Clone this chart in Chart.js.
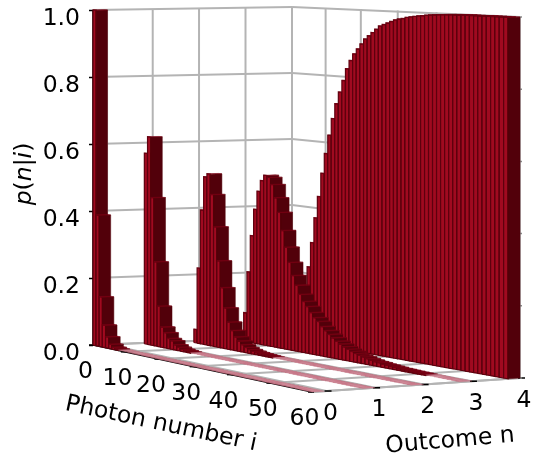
<!DOCTYPE html>
<html>
<head>
<meta charset="utf-8">
<title>p(n|i)</title>
<script src="https://cdn.jsdelivr.net/npm/chart.js@4"></script>
<style>
  html, body { margin: 0; padding: 0; background: #fff; }
  canvas { display: block; }
</style>
</head>
<body>
<canvas id="chart" width="533" height="455"></canvas>
<script>
// Axis ticks
const photonTicks = [0, 10, 20, 30, 40, 50, 60];
const outcomeTicks = [0, 1, 2, 3, 4];
const probTicks = [0, 0.2, 0.4, 0.6, 0.8, 1.0];

// p(n|i) for i = 0..59. 0 means no bar at all
const outcome0 = [
  1.0, .39, .148, .066, .033, .013, .006, .003, .0015, .0008,
  .0005, .0004, .0003, .0002, .0002, .0001, .0001, .0001, .0001, .0001,
  .0001, .0001, .0001, .0001, .0001, .0001, .0001, .0001, .0001, .0001,
  .0001, .0001, .0001, .0001, .0001, .0001, .0001, .0001, .0001, .0001,
  .0001, .0001, .0001, .0001, .0001, .0001, .0001, .0001, .0001, .0001,
  .0001, .0001, .0001, .0001, .0001, .0001, .0001, .0001, .0001, .0001
];
const outcome1 = [
  0, .57, .62, .44, .25, .12, .06, .045, .03, .025,
  .015, .01, .006, .004, .002, .001, .0008, .0006, .0004, .0003,
  .0002, .0002, .0001, .0001, .0001, .0001, .0001, .0001, .0001, .0001,
  .0001, .0001, .0001, .0001, .0001, .0001, .0001, .0001, .0001, .0001,
  .0001, .0001, .0001, .0001, .0001, .0001, .0001, .0001, .0001, .0001,
  .0001, .0001, .0001, .0001, .0001, .0001, .0001, .0001, .0001, .0001
];
const outcome2 = [
  0, 0, .04, .225, .40, .50, .51, .45, .355, .256,
  .178, .12, .08, .057, .04, .03, .021, .015, .011, .008,
  .006, .0045, .0035, .0025, .002, .0015, .0012, .001, .0008, .0006,
  .0005, .0004, .0003, .0003, .0002, .0002, .0002, .0001, .0001, .0001,
  .0001, .0001, .0001, .0001, .0001, .0001, .0001, .0001, .0001, .0001,
  .0001, .0001, .0001, .0001, .0001, .0001, .0001, .0001, .0001, .0001
];
const outcome3 = [
  0, 0, 0, .086, .21, .32, .40, .455, .488, .505,
  .50, .48, .442, .40, .348, .30, .257, .22, .193, .168,
  .149, .136, .12, .107, .098, .085, .075, .066, .058, .05,
  .044, .038, .033, .029, .025, .022, .019, .016, .014, .012,
  .011, .009, .008, .007, .006, .005, .0045, .004, .0035, .003,
  .0025, .002, .0018, .0015, .0012, .001, .0009, .0008, .0007, .0006
];
const outcome4 = [
  0, 0, 0, 0, .012, .045, .09, .155, .226, .30,
  .375, .44, .51, .57, .625, .675, .72, .755, .79, .825,
  .85, .87, .885, .90, .915, .925, .935, .945, .955, .96,
  .965, .97, .975, .978, .98, .984, .986, .988, .99, .991,
  .993, .994, .995, .996, .997, .997, .998, .998, .998, .999,
  .999, .999, .999, .999, 1, 1, 1, 1, 1, 1
];
const rows = [outcome0, outcome1, outcome2, outcome3, outcome4];

// Colours
const gridColor = '#b4b4b4';
const frontColor = '#a00a20';
const frontEdge = '#5e000e';
const sideColor = '#52000a';
const capColor = '#7a0014';
const flatCapColor = '#d4899a';
const flatCapEdge = '#b45c6c';
const flatBelow = 0.002; // bars lower than this read as a pale strip on the floor

const nMin = -0.3, nMax = 4, iMax = 60, barDepth = 0.25;
// Where each row of bars ends along the outcome axis
const rowEnds = [-0.05, 1, 2, 3, 4];

// Floor corners on the page: (i=0,n=min) (i=max,n=min) (i=max,n=max) (i=0,n=max)
const floor = [[93, 345], [312, 392], [520, 378], [292, 337]];
// Height of z=1 above each end of the floor
const heightBase = 335, heightPerI = 31, heightPerN = -5;
const outcomeWarp = 0.1; // keeps the outcome gridlines evenly spaced along the back

// Homography from the unit square to the floor quad
const sx = floor[0][0] - floor[1][0] + floor[2][0] - floor[3][0];
const sy = floor[0][1] - floor[1][1] + floor[2][1] - floor[3][1];
const dx1 = floor[1][0] - floor[2][0], dx2 = floor[3][0] - floor[2][0];
const dy1 = floor[1][1] - floor[2][1], dy2 = floor[3][1] - floor[2][1];
const den = dx1 * dy2 - dx2 * dy1;
const g = (sx * dy2 - dx2 * sy) / den;
const h = (dx1 * sy - sx * dy1) / den;
const ax = floor[1][0] - floor[0][0] + g * floor[1][0];
const bx = floor[3][0] - floor[0][0] + h * floor[3][0];
const ay = floor[1][1] - floor[0][1] + g * floor[1][1];
const by = floor[3][1] - floor[0][1] + h * floor[3][1];

// 3D (i, n, p) -> point in the chart's scales (x in px, y so that the left edge reads p)
function project(i, n, p) {
  const u = i / iMax;
  let v = (n - nMin) / (nMax - nMin);
  v -= outcomeWarp * v * (1 - v);
  const w = g * u + h * v + 1;
  const px = (ax * u + bx * v + floor[0][0]) / w;
  const py = (ay * u + by * v + floor[0][1]) / w - p * (heightBase + heightPerI * u + heightPerN * v);
  return { x: px, y: (floor[0][1] - py) / heightBase };
}

const datasets = [];

function addLine(points, color, width) {
  datasets.push({
    data: points, showLine: true, fill: false, borderColor: color,
    borderWidth: width, pointRadius: 0, clip: false, tension: 0
  });
}

function addFace(points, color, edge, width) {
  datasets.push({
    data: points.concat([points[0]]), showLine: true, fill: 'shape',
    backgroundColor: color, borderColor: edge, borderWidth: width,
    pointRadius: 0, clip: false, tension: 0
  });
}

// Short tick mark around a projected point
function addTick(pt, before, after, color) {
  addLine([{ x: pt.x - before, y: pt.y }, { x: pt.x + after, y: pt.y }], color, 1.5);
}

// Grid on the floor and the two walls
outcomeTicks.forEach(n => {
  addLine([project(0, n, 0), project(iMax, n, 0)], gridColor, 2);
  addLine([project(0, n, 0), project(0, n, 1)], gridColor, 2);
});
photonTicks.forEach(i => {
  addLine([project(i, nMin, 0), project(i, nMax, 0)], gridColor, 2);
  addLine([project(i, nMax, 0), project(i, nMax, 1)], gridColor, 2);
});
probTicks.forEach(p => {
  addLine([project(0, nMin, p), project(0, nMax, p)], gridColor, 2);
  addLine([project(0, nMax, p), project(iMax, nMax, p)], gridColor, 2);
});
addLine([project(iMax, nMin, 0), project(iMax, nMax, 0)], gridColor, 2);

// Black axes
addLine([project(0, nMin, 0), project(0, nMin, 1)], '#000', 1.5);
addLine([project(0, nMin, 0), project(iMax, nMin, 0)], '#000', 1.5);

// Tick marks on the floor edges and the right wall
photonTicks.forEach(i => addTick(project(i, nMin, 0), 4, 2, '#000'));
outcomeTicks.forEach(n => addTick(project(iMax, n, 0), 2, 5, '#000'));
probTicks.forEach(p => addTick(project(iMax, nMax, p), 0, 2, '#888'));

// Bars, far row first, low i first, so nearer faces paint over
for (let r = rows.length - 1; r >= 0; r--) {
  const n1 = rowEnds[r];
  const n0 = n1 - barDepth;
  rows[r].forEach((p, i) => {
    if (p === 0) return;
    const cap = [project(i, n0, p), project(i + 1, n0, p), project(i + 1, n1, p), project(i, n1, p)];
    if (p < flatBelow) {
      addFace(cap, flatCapColor, flatCapEdge, 0.3);
      return;
    }
    addFace([project(i, n0, 0), project(i + 1, n0, 0), project(i + 1, n0, p), project(i, n0, p)],
      frontColor, frontEdge, 1.2);
    addFace([project(i + 1, n0, 0), project(i + 1, n1, 0), project(i + 1, n1, p), project(i + 1, n0, p)],
      sideColor, sideColor, 0.5);
    addFace(cap, capColor, capColor, 0.4);
  });
}

const labelSize = 23.5;
const tickFont = labelSize + 'px "DejaVu Sans"';

// Tick labels and titles of the 3D axes have no Chart.js scale of their own
const axisText = {
  id: 'axisText',
  afterDraw(chart) {
    const { ctx, scales } = chart;
    const toPx = pt => [scales.x.getPixelForValue(pt.x), scales.y.getPixelForValue(pt.y)];
    ctx.save();
    ctx.fillStyle = '#000';
    ctx.textAlign = 'center';
    ctx.textBaseline = 'middle';
    ctx.font = tickFont;
    photonTicks.forEach(i => {
      const [x, y] = toPx(project(i, nMin, 0));
      ctx.fillText(String(i), x - 7.5, y + 27);
    });
    outcomeTicks.forEach(n => {
      const [x, y] = toPx(project(iMax, n, 0));
      ctx.fillText(String(n), x + 4, y + 22.5);
    });
    ctx.save();
    ctx.translate(161, 424);
    ctx.rotate(12 * Math.PI / 180);
    ctx.fillText('Photon number i', 0, 0);
    ctx.restore();
    ctx.save();
    ctx.translate(450, 441);
    ctx.rotate(-5 * Math.PI / 180);
    ctx.fillText('Outcome n', 0, 0);
    ctx.restore();

    // p(n|i) with the letters in italics
    const parts = [['p', true], ['(', false], ['n', true], ['|', false], ['i', true], [')', false]];
    const fontOf = it => (it ? 'italic ' : '') + tickFont;
    let total = 0;
    parts.forEach(([t, it]) => { ctx.font = fontOf(it); total += ctx.measureText(t).width; });
    ctx.save();
    ctx.translate(25, 174);
    ctx.rotate(-Math.PI / 2);
    ctx.textAlign = 'left';
    let pos = -total / 2;
    parts.forEach(([t, it]) => {
      ctx.font = fontOf(it);
      ctx.fillText(t, pos, 0);
      pos += ctx.measureText(t).width;
    });
    ctx.restore();
    ctx.restore();
  }
};

new Chart(document.getElementById('chart').getContext('2d'), {
  type: 'scatter',
  data: { datasets: datasets.reverse() },
  options: {
    responsive: false,
    animation: false,
    events: [],
    layout: { padding: 0 },
    plugins: { legend: { display: false }, tooltip: { enabled: false } },
    scales: {
      x: { type: 'linear', display: false, min: 93, max: 533 },
      y: {
        type: 'linear',
        min: (345 - 455) / 335,
        max: 345 / 335,
        afterFit: scale => {
          scale.width = 93;
          scale.paddingTop = 0;
          scale.paddingBottom = 0;
        },
        afterBuildTicks: scale => { scale.ticks = probTicks.map(v => ({ value: v })); },
        border: { display: false },
        grid: { drawOnChartArea: false, tickLength: 4, tickColor: '#000', tickWidth: 1.5 },
        ticks: {
          color: '#000',
          padding: 9,
          labelOffset: 9,
          font: { family: '"DejaVu Sans"', size: labelSize },
          callback: v => Number(v).toFixed(1)
        }
      }
    }
  },
  plugins: [axisText]
});
</script>
</body>
</html>
